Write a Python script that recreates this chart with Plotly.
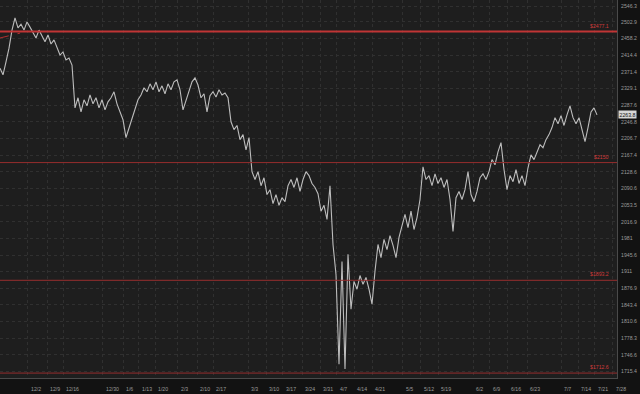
import math
import plotly.graph_objects as go

# ---- data ----
prices = [
    2381, 2364, 2397, 2433, 2481, 2514, 2487, 2497, 2481, 2503,
    2489, 2476, 2460, 2481, 2465, 2450, 2468, 2444, 2455, 2436,
    2415, 2423, 2402, 2407, 2389, 2281, 2306, 2271, 2301, 2286,
    2313, 2291, 2306, 2281, 2301, 2276, 2296, 2306, 2321, 2291,
    2271, 2252, 2209, 2233, 2257, 2281, 2301, 2313, 2331, 2321,
    2341, 2326, 2346, 2321, 2336, 2316, 2341, 2326, 2346, 2351,
    2326, 2276, 2301, 2321, 2346, 2356, 2338, 2306, 2316, 2271,
    2311, 2321, 2308, 2326, 2313, 2318, 2306, 2247, 2228, 2238,
    2204, 2216, 2180, 2209, 2129, 2111, 2129, 2097, 2115, 2077,
    2088, 2057, 2077, 2053, 2070, 2061, 2097, 2111, 2093, 2115,
    2084, 2111, 2129, 2120, 2102, 2093, 2079, 2040, 2053, 2022,
    2097, 1968, 1905, 1729, 1932, 1720, 1947, 1835, 1891, 1875,
    1903, 1885, 1899, 1875, 1845, 1912, 1968, 1940, 1979, 1957,
    1987, 1966, 1940, 1983, 2011, 2033, 2004, 2040, 2000, 2026,
    2066, 2140, 2111, 2120, 2097, 2124, 2102, 2115, 2093, 2111,
    2066, 1996, 2070, 2084, 2066, 2088, 2129, 2077, 2061, 2084,
    2115, 2124, 2111, 2129, 2157, 2145, 2175, 2197, 2134, 2088,
    2120, 2106, 2134, 2102, 2120, 2097, 2138, 2168, 2157, 2175,
    2192, 2185, 2204, 2216, 2233, 2257, 2242, 2262, 2238, 2264,
    2286, 2257, 2242, 2257, 2228, 2199, 2233, 2271, 2281, 2263.8,
]
bar_index = list(range(len(prices)))

y_tick_vals = [2546.3, 2502.9, 2458.2, 2414.4, 2371.4, 2329.1, 2287.6, 2246.8,
               2206.7, 2167.4, 2128.6, 2090.6, 2053.5, 2016.9, 1981, 1945.6,
               1911, 1876.9, 1843.4, 1810.6, 1778.3, 1746.6, 1715.4]
y_tick_text = ["2546.3", "2502.9", "2458.2", "2414.4", "2371.4", "2329.1", "2287.6",
               "2246.8", "2206.7", "2167.4", "2128.6", "2090.6", "2053.5", "2016.9",
               "1981", "1945.6", "1911", "1876.9", "1843.4", "1810.6", "1778.3",
               "1746.6", "1715.4"]

x_tick_pos = [-1.67, 9.33, 15.67, 21, 34.33, 41, 46.33, 51.67, 59.33, 65.67, 71,
              82.67, 88.67, 94.33, 100.67, 106.67, 112.33, 118, 124, 134.33,
              140.33, 146, 157.67, 163.33, 169.33, 175.67, 187, 192.67, 198.33, 204.33]
x_tick_labels = ["11/18", "12/2", "12/9", "12/16", "12/30", "1/6", "1/13", "1/20",
                 "2/3", "2/10", "2/17", "3/3", "3/10", "3/17", "3/24", "3/31", "4/7",
                 "4/14", "4/21", "5/5", "5/12", "5/19", "6/2", "6/9", "6/16", "6/23",
                 "7/7", "7/14", "7/21", "7/28"]

level_vals = [2477.1, 2150.0, 1893.2, 1712.6]
level_labels = ["$2477.1", "$2150", "$1893.2", "$1712.6"]

trend_x = [0, 6.7]
trend_vals = [2460, 2473]

last_price = 2263.8
last_label = "2263.8"

# ---- figure ----
W, H = 640, 394
ML, MR, MT, MB = 0, 23, 0, 16
plot_w = W - ML - MR

fig = go.Figure()
fig.add_trace(go.Scatter(
    x=trend_x, y=trend_vals, mode="lines",
    line=dict(color="#b03030", width=1, dash="dash"), hoverinfo="skip", showlegend=False))
fig.add_trace(go.Scatter(
    x=bar_index, y=prices, mode="lines",
    line=dict(color="#bdbdbd", width=1.1), showlegend=False))

shapes = []
annotations = []
for i, (v, lab) in enumerate(zip(level_vals, level_labels)):
    shapes.append(dict(type="line", xref="paper", x0=0, x1=1, yref="y", y0=v, y1=v,
                       line=dict(color="#c03535" if i == 0 else "#962d2d",
                                 width=2 if i == 0 else 1), layer="above"))
    annotations.append(dict(xref="paper", x=611 / plot_w, xanchor="right",
                            yref="y", y=math.log10(v), yanchor="bottom", yshift=1,
                            text=lab, showarrow=False,
                            font=dict(size=5.2, color="#d03a3a", family="Liberation Sans")))

for pos, lab in zip(x_tick_pos, x_tick_labels):
    annotations.append(dict(xref="x", x=pos, xanchor="left", xshift=1,
                            yref="paper", y=0, yanchor="middle", yshift=-10.5,
                            text=lab, showarrow=False,
                            font=dict(size=5.2, color="#9a9a9a", family="Liberation Sans")))

annotations.append(dict(xref="paper", x=1, xanchor="left", xshift=1,
                        yref="y", y=math.log10(last_price), yanchor="middle",
                        text=last_label, showarrow=False, bgcolor="#d6d6d6",
                        borderpad=0.5,
                        font=dict(size=5.2, color="#111111", family="Liberation Sans")))

fig.update_layout(
    width=W, height=H,
    margin=dict(l=ML, r=MR, t=MT, b=MB, pad=0),
    paper_bgcolor="#121212", plot_bgcolor="#1e1e1e",
    shapes=shapes, annotations=annotations,
    showlegend=False,
    xaxis=dict(range=[0, plot_w / 3], tickvals=x_tick_pos, showticklabels=False,
               showgrid=True, gridcolor="#303030", griddash="dot", gridwidth=1,
               zeroline=False, showline=True, linecolor="#4a4a4a", linewidth=1,
               ticks=""),
    yaxis=dict(type="log", side="right",
               range=[math.log10(1703.5), math.log10(2563)],
               tickvals=y_tick_vals, ticktext=y_tick_text,
               tickfont=dict(size=5.2, color="#9a9a9a", family="Liberation Sans"),
               showgrid=True, gridcolor="#303030", griddash="dot", gridwidth=1,
               zeroline=False, showline=True, linecolor="#4a4a4a", linewidth=1,
               ticks="", ticklabelstandoff=2),
)

fig.write_html("out.html")
